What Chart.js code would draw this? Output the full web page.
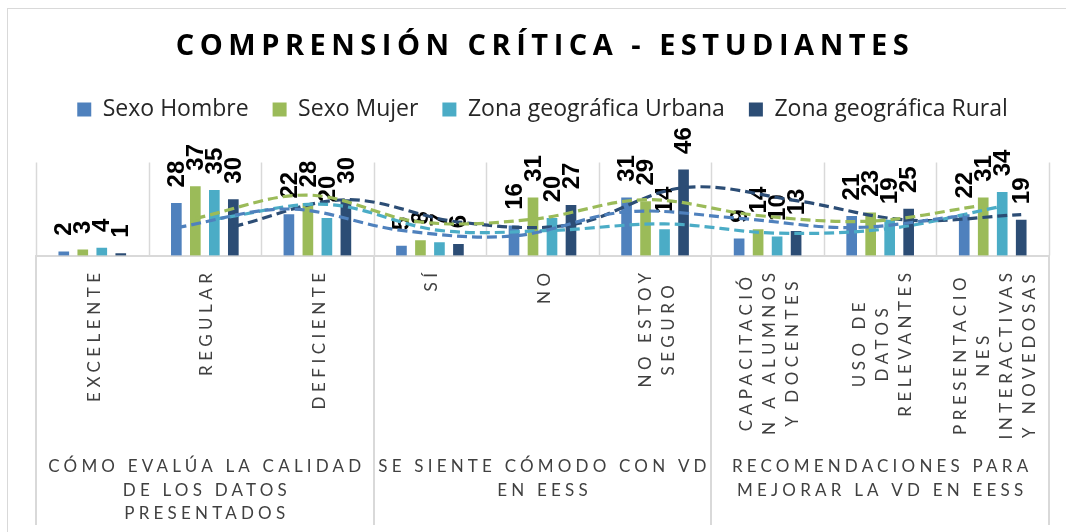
<!DOCTYPE html>
<html><head><meta charset="utf-8">
<script src="https://cdn.jsdelivr.net/npm/chart.js@4.4.1/dist/chart.umd.min.js"></script>
<style>html,body{margin:0;padding:0;background:#fff;overflow:hidden}#wrap{width:1066px;height:532px;position:relative}</style>
</head><body><div id="wrap"><canvas id="c" width="1066" height="532"></canvas></div>
<script>
const chartTitle = 'COMPRENSIÓN CRÍTICA - ESTUDIANTES';
const categories = [
  ['EXCELENTE'], ['REGULAR'], ['DEFICIENTE'],
  ['SÍ'], ['NO'], ['NO ESTOY', 'SEGURO'],
  ['CAPACITACIÓ', 'N A ALUMNOS', 'Y DOCENTES'], ['USO DE', 'DATOS', 'RELEVANTES'], ['PRESENTACIO', 'NES', 'INTERACTIVAS', 'Y NOVEDOSAS']
];
const groupLabels = [
  ['CÓMO EVALÚA LA CALIDAD', 'DE LOS DATOS', 'PRESENTADOS'],
  ['SE SIENTE CÓMODO CON VD', 'EN EESS'],
  ['RECOMENDACIONES PARA', 'MEJORAR LA VD EN EESS']
];
const groupSizes = [3, 3, 3];
const seriesNames = ['Sexo Hombre', 'Sexo Mujer', 'Zona geográfica Urbana', 'Zona geográfica Rural'];
const sexoHombre = [2, 28, 22, 5, 16, 31, 9, 21, 22];
const sexoMujer = [3, 37, 28, 8, 31, 29, 14, 23, 31];
const zonaUrbana = [4, 35, 20, 7, 20, 14, 10, 19, 34];
const zonaRural = [1, 30, 30, 6, 27, 46, 13, 25, 19];
const seriesColors = ['#4F81BD', '#9BBB59', '#4BACC6', '#2C4D75'];

const seriesValues = [sexoHombre, sexoMujer, zonaUrbana, zonaRural];
const CLUSTER = 0.675;   // share of a category taken by the cluster of 4 columns

// each series sits at its own slot inside the category cluster
function slotOffset(k) {
  return (k - (seriesValues.length - 1) / 2) * CLUSTER / seriesValues.length;
}
function barPoints(values, k) {
  return values.map((v, i) => ({x: i + slotOffset(k), y: v}));
}
// Excel "2 per. moving average" trendline, placed on each series' own column position
function movingAverageTrend(values, k) {
  const pts = [];
  for (let i = 1; i < values.length; i++) pts.push({x: i + slotOffset(k), y: (values[i - 1] + values[i]) / 2});
  return pts;
}

const barSets = seriesValues.map((vals, k) => ({
  type: 'bar', label: seriesNames[k], data: barPoints(vals, k), backgroundColor: seriesColors[k],
  borderWidth: 0, barThickness: 10, grouped: false, order: 2,
  xAxisID: 'xl', yAxisID: 'y'
}));
const trendSets = seriesValues.map((vals, k) => ({
  type: 'line', label: 'trend ' + seriesNames[k], data: movingAverageTrend(vals, k),
  borderColor: seriesColors[k], borderWidth: 3.2, borderDash: [10, 5], pointRadius: 0,
  tension: 0.35, fill: false, order: 1, grouped: false, xAxisID: 'xl', yAxisID: 'y'
}));

const deco = {
  id: 'deco',
  beforeDraw(chart) {
    const ctx = chart.ctx;
    ctx.save();
    ctx.fillStyle = '#fff';
    ctx.fillRect(0, 0, chart.width, chart.height);
    ctx.strokeStyle = '#d9d9d9'; ctx.lineWidth = 1;
    ctx.strokeRect(7.5, 8.5, 1200, 700);
    ctx.fillStyle = '#000';
    ctx.font = 'bold 29px "Open Sans"';
    ctx.letterSpacing = '5.5px';
    ctx.textAlign = 'center'; ctx.textBaseline = 'middle';
    ctx.fillText(chartTitle, 545, 47);
    ctx.restore();
  },
  beforeDatasetsDraw(chart) {
    // vertical category separators inside the plot area
    const ctx = chart.ctx, xs = chart.scales.xl, area = chart.chartArea;
    ctx.save();
    ctx.strokeStyle = '#d9d9d9'; ctx.lineWidth = 1.5;
    for (let b = 0; b <= categories.length; b++) {
      const x = Math.round(xs.getPixelForValue(b - 0.5)) + 0.5;
      ctx.beginPath(); ctx.moveTo(x, area.top); ctx.lineTo(x, area.bottom); ctx.stroke();
    }
    ctx.restore();
  },
  afterDatasetDraw(chart, args) {
    const ds = chart.data.datasets[args.index];
    if (ds.type !== 'bar') return;
    const ctx = chart.ctx;
    ctx.save();
    ctx.fillStyle = '#000';
    ctx.font = 'bold 24px "Liberation Sans"';
    ctx.textAlign = 'left'; ctx.textBaseline = 'middle';
    args.meta.data.forEach((bar, i) => {
      ctx.save();
      ctx.translate(bar.x + 1, bar.y - 16);
      ctx.rotate(-Math.PI / 2);
      ctx.fillText(String(ds.data[i].y), 0, 0);
      ctx.restore();
    });
    ctx.restore();
  },
  afterDraw(chart) {
    const ctx = chart.ctx;
    const xs = chart.scales.xl;
    const base = chart.scales.x.top;
    ctx.save();
    // group dividers below the axis
    ctx.strokeStyle = '#d9d9d9'; ctx.lineWidth = 2;
    let acc = 0;
    const bounds = [0];
    groupSizes.forEach(s => { acc += s; bounds.push(acc); });
    bounds.forEach(b => {
      const x = Math.round(xs.getPixelForValue(b - 0.5));
      ctx.beginPath(); ctx.moveTo(x, base); ctx.lineTo(x, 525); ctx.stroke();
    });
    // category labels
    ctx.fillStyle = '#404040';
    ctx.font = '17px Lato';
    ctx.letterSpacing = '4.5px';
    ctx.textAlign = 'center'; ctx.textBaseline = 'middle';
    const lineH = 23;
    categories.forEach((lines, i) => {
      const cx = xs.getPixelForValue(i);
      const maxW = Math.max(...lines.map(l => ctx.measureText(l).width));
      ctx.save();
      ctx.translate(cx + 2, base + 13);
      ctx.rotate(-Math.PI / 2);
      lines.forEach((l, j) => ctx.fillText(l, -maxW / 2, (j - (lines.length - 1) / 2) * lineH));
      ctx.restore();
    });
    // group labels
    ctx.letterSpacing = '4.2px';
    let start = 0;
    groupLabels.forEach((lines, g) => {
      const cx = xs.getPixelForValue(start + groupSizes[g] / 2 - 0.5);
      lines.forEach((l, j) => ctx.fillText(l, cx + 2, 467 + j * 23.3));
      start += groupSizes[g];
    });
    ctx.restore();
  }
};

new Chart(document.getElementById('c'), {
  type: 'bar',
  data: { labels: categories, datasets: [...barSets, ...trendSets] },
  options: {
    responsive: false, animation: false, devicePixelRatio: 1,
    layout: { padding: { top: 74, left: 36, right: 17, bottom: 0 } },
    plugins: {
      title: { display: false },
      tooltip: { enabled: false },
      legend: {
        position: 'top',
        labels: {
          filter: (item, data) => data.datasets[item.datasetIndex].type === 'bar',
          boxWidth: 14, boxHeight: 14, padding: 24, color: '#262626',
          font: { family: '"Open Sans"', size: 23 }
        }
      }
    },
    scales: {
      x: {
        type: 'category', offset: true, position: 'bottom',
        grid: { display: false },
        border: { display: true, color: '#d9d9d9', width: 2 },
        ticks: { display: false },
        afterFit: s => { s.height = 276.5; }
      },
      xl: {
        type: 'linear', position: 'top', min: -0.5, max: 8.5, offset: false,
        grid: { display: false }, border: { display: false }, ticks: { display: false },
        afterFit: s => { s.height = 31.5; }
      },
      y: { display: false, min: 0, max: 50 }
    }
  },
  plugins: [deco]
});
</script></body></html>
